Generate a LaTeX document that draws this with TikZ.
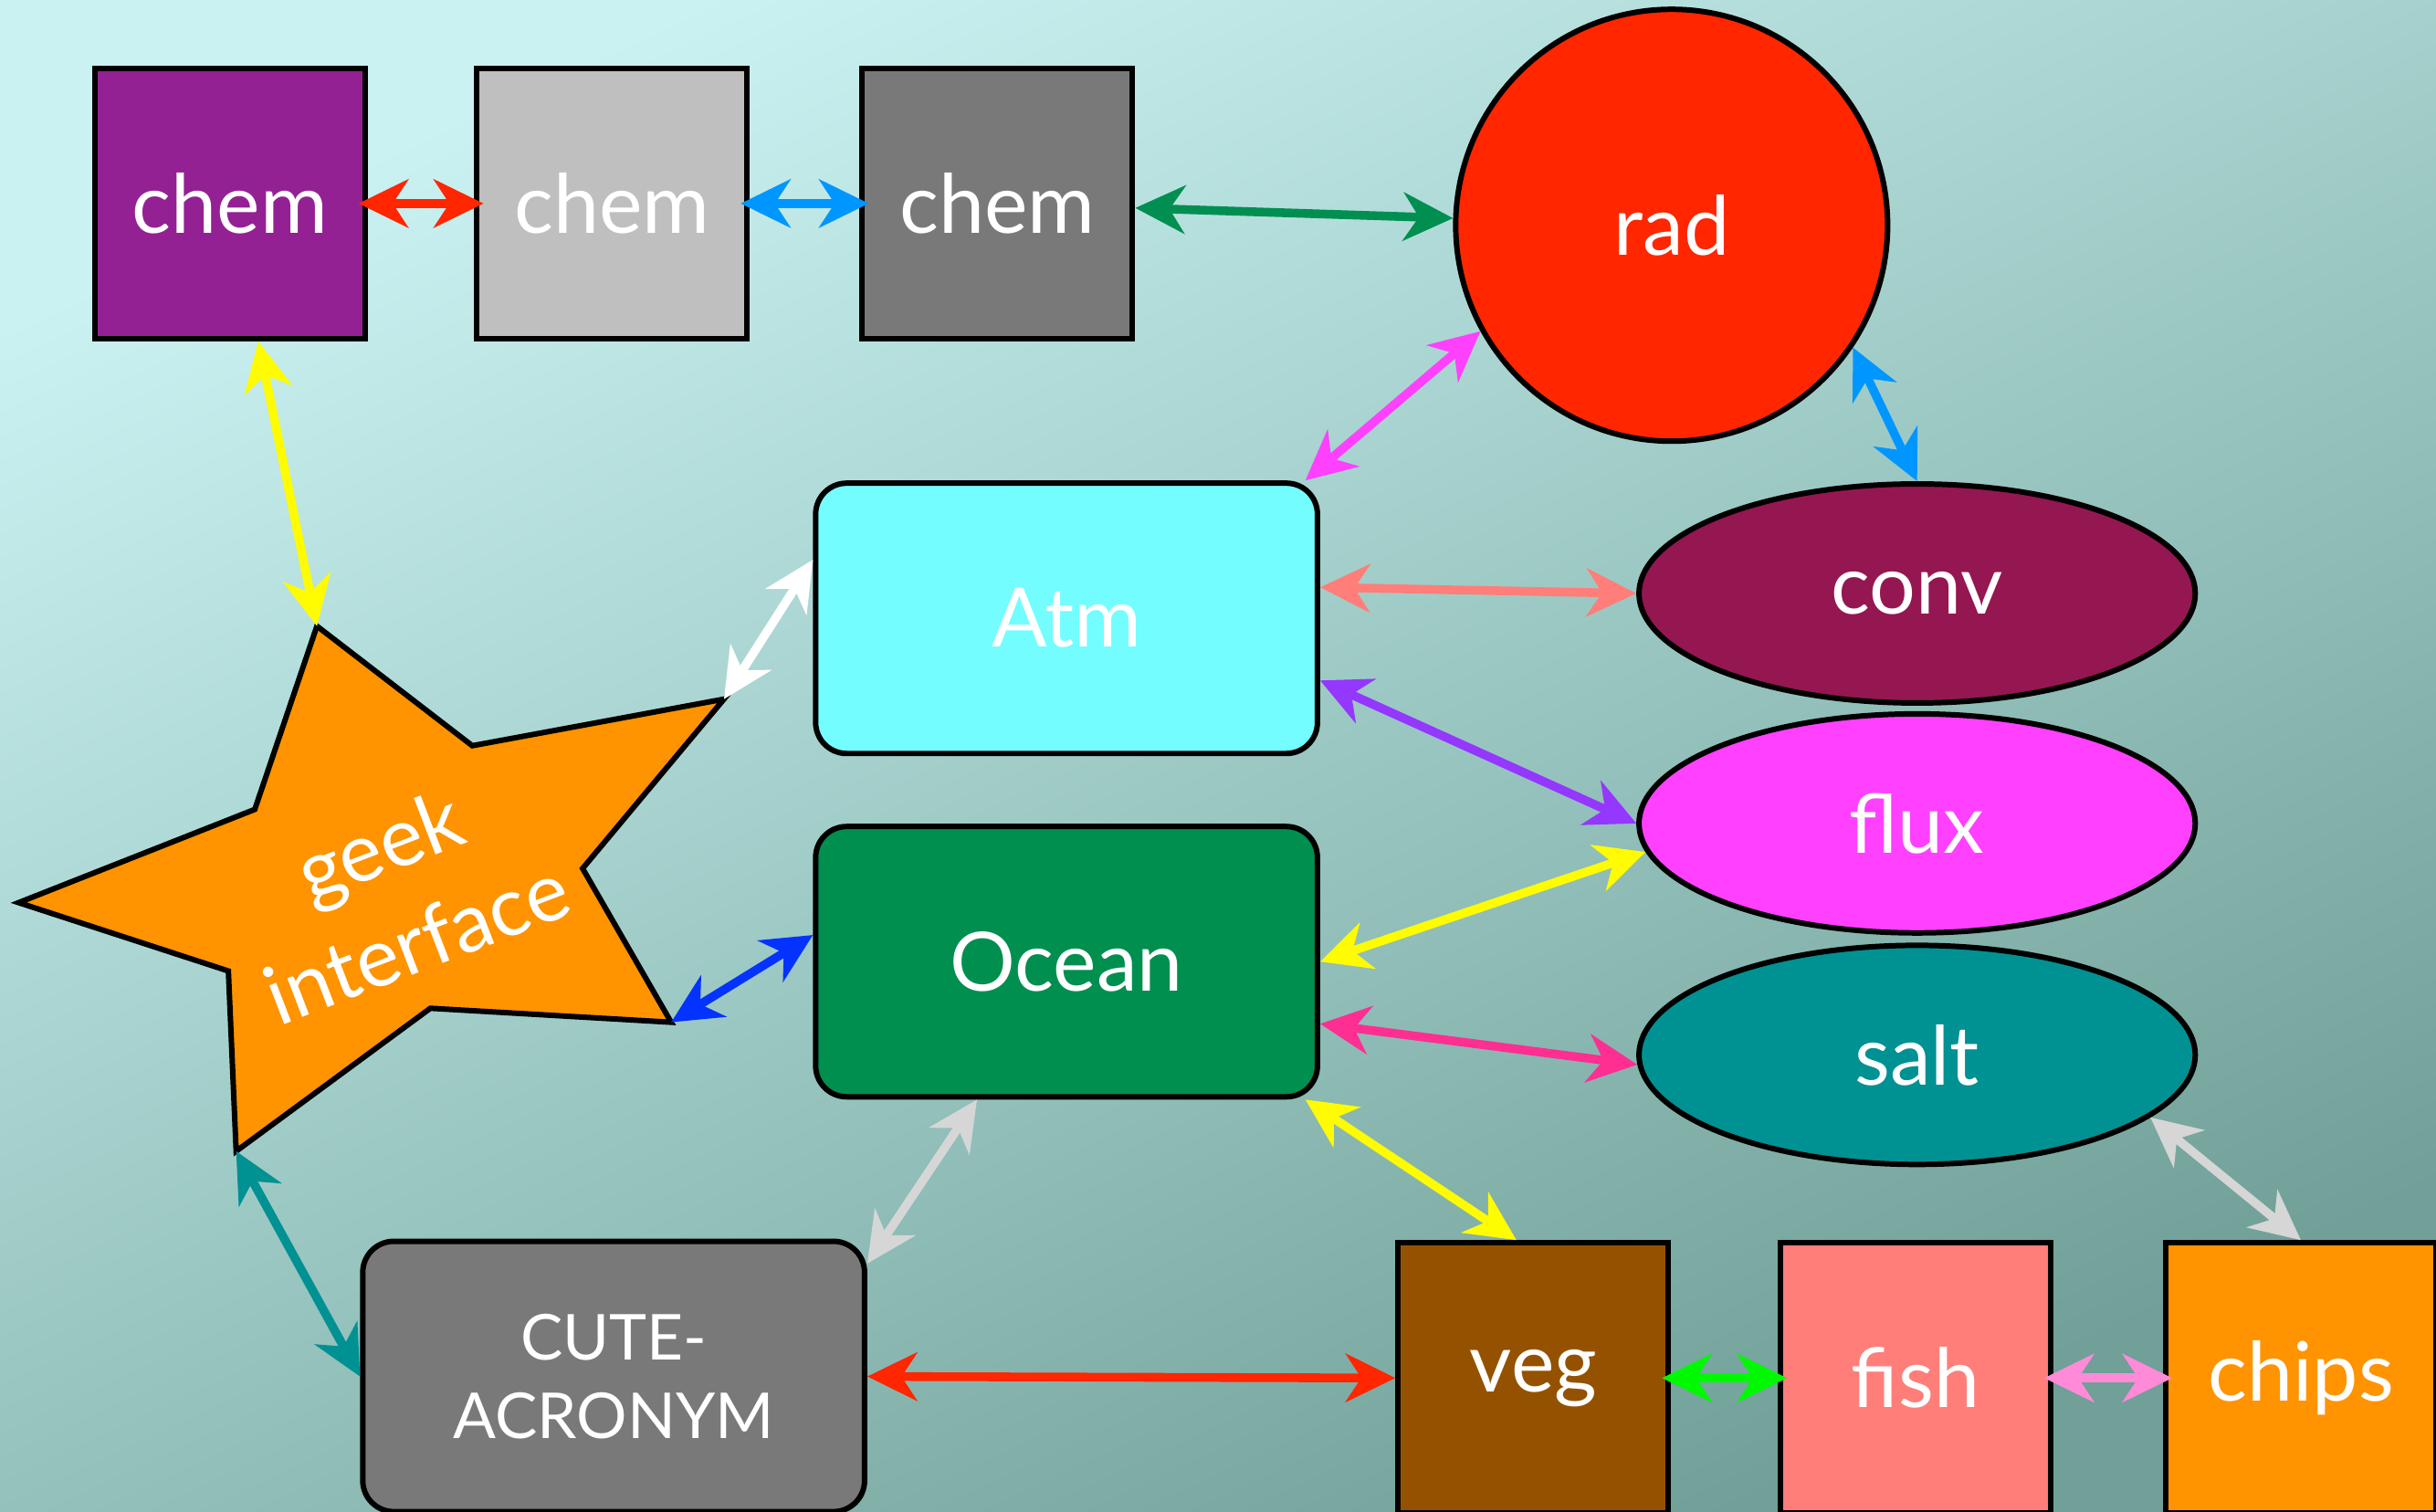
\documentclass[tikz,border=0pt]{standalone}
\usepackage{fontspec}
\setmainfont{Lato}
\usetikzlibrary{arrows.meta,shapes.geometric}
\definecolor{bgtop}{HTML}{CAF2F2}
\definecolor{bgbot}{HTML}{70A097}
\definecolor{plum}{HTML}{942193}
\definecolor{silver}{HTML}{BFBFBF}
\definecolor{tin}{HTML}{797979}
\definecolor{redrad}{HTML}{FF2600}
\definecolor{ice}{HTML}{73FDFF}
\definecolor{moss}{HTML}{008F4F}
\definecolor{maroon}{HTML}{941751}
\definecolor{fluxpink}{HTML}{FF40FF}
\definecolor{saltteal}{HTML}{009193}
\definecolor{mocha}{HTML}{945200}
\definecolor{salmon}{HTML}{FF7E79}
\definecolor{tangerine}{HTML}{FF9300}
\definecolor{sky}{HTML}{0096FF}
\definecolor{clover}{HTML}{008F51}
\definecolor{lemon}{HTML}{FFFB00}
\definecolor{grape}{HTML}{9437FF}
\definecolor{strawberry}{HTML}{FF2F92}
\definecolor{blueberry}{HTML}{0433FF}
\definecolor{mercury}{HTML}{D6D6D6}
\definecolor{lime}{HTML}{00F900}
\definecolor{carnation}{HTML}{FF8AD8}
\begin{document}
\begin{tikzpicture}[
  font=\fontsize{15}{18}\selectfont,
  box/.style={draw=black, line width=1pt, text=white, minimum width=1.74cm, minimum height=1.74cm, inner sep=0pt},
  rbox/.style={box, rounded corners=0.2cm, minimum width=3.23cm},
  oval/.style={ellipse, draw=black, line width=1pt, text=white, minimum width=3.58cm, minimum height=1.41cm, inner sep=0pt},
  link/.style={{Stealth[length=3.2mm,width=3.1mm,inset=1mm]}-{Stealth[length=3.2mm,width=3.1mm,inset=1mm]}, line width=1.6pt},
  tight/.style={shorten <=-0.6mm, shorten >=-0.6mm},
]
\shade[top color=bgtop, bottom color=bgbot, shading angle=25] (0,0) rectangle (15.68,-9.73);
\useasboundingbox (0,0) rectangle (15.68,-9.73);

\node[box, fill=plum] (chem1) at (1.48,-1.31) {chem};
\node[box, fill=silver] (chem2) at (3.94,-1.31) {chem};
\node[box, fill=tin] (chem3) at (6.42,-1.31) {chem};
\node[circle, draw=black, line width=1pt, fill=redrad, text=white, minimum size=2.78cm] (rad) at (10.76,-1.45) {rad};
\node[rbox, fill=ice] (atm) at (6.865,-3.98) {Atm};
\node[rbox, fill=moss] (ocean) at (6.865,-6.19) {Ocean};
\node[oval, fill=maroon] (conv) at (12.34,-3.82) {conv};
\node[oval, fill=fluxpink] (flux) at (12.34,-5.30) {flux};
\node[oval, fill=saltteal] (salt) at (12.34,-6.79) {salt};
\node[rbox, fill=tin, align=center, font=\fontsize{11.6}{14.5}\selectfont] (cute) at (3.95,-8.86) {CUTE-\\ACRONYM};
\node[box, fill=mocha] (veg) at (9.87,-8.87) {veg};
\node[box, fill=salmon] (fish) at (12.33,-8.87) {fish};
\node[box, fill=tangerine] (chips) at (14.81,-8.87) {chips};

\coordinate (gtop) at (2.04,-4.03);
\coordinate (gright) at (4.66,-4.50);
\coordinate (gbr) at (4.32,-6.58);
\coordinate (gbot) at (1.52,-7.41);
\coordinate (gleft) at (0.12,-5.81);
\draw[fill=tangerine, line width=1pt] (gtop) -- (3.04,-4.80) -- (gright) -- (3.75,-5.59) -- (gbr) -- (2.77,-6.49)
  -- (gbot) -- (1.47,-6.25) -- (gleft) -- (1.64,-5.21) -- cycle;
\node[rotate=21, align=center, text=white, font=\fontsize{15}{19}\selectfont] (geek) at (2.56,-5.75) {geek\\interface};

\draw[link, tight, redrad] (chem1) -- (chem2);
\draw[link, tight, sky] (chem2) -- (chem3);
\draw[link, clover] (chem3) -- (rad);
\draw[link, lemon] (chem1) -- (gtop);
\draw[link, fluxpink] (rad.209) -- (atm.30);
\draw[link, sky] (rad.-34) -- (conv.north);
\draw[link, salmon] ([yshift=2mm]atm.east) -- (conv.west);
\draw[link, grape] ([yshift=-4mm]atm.east) -- (flux.west);
\draw[link, lemon] (ocean.east) -- (flux.186);
\draw[link, strawberry] ([yshift=-4mm]ocean.east) -- (salt.182);
\draw[link, lemon] (ocean.-30) -- (veg.97);
\draw[link, white] (gright) -- (atm.167);
\draw[link, blueberry] (gbr) -- (ocean.174);
\draw[link, mercury] (ocean.237) -- (cute.24);
\draw[link, saltteal] (gbot) -- (cute.west);
\draw[link, redrad] (cute.east) -- (veg.west);
\draw[link, tight, lime] (veg) -- (fish);
\draw[link, tight, carnation] (fish) -- (chips);
\draw[link, mercury] (salt.-15) -- (chips.north);
\end{tikzpicture}
\end{document}
